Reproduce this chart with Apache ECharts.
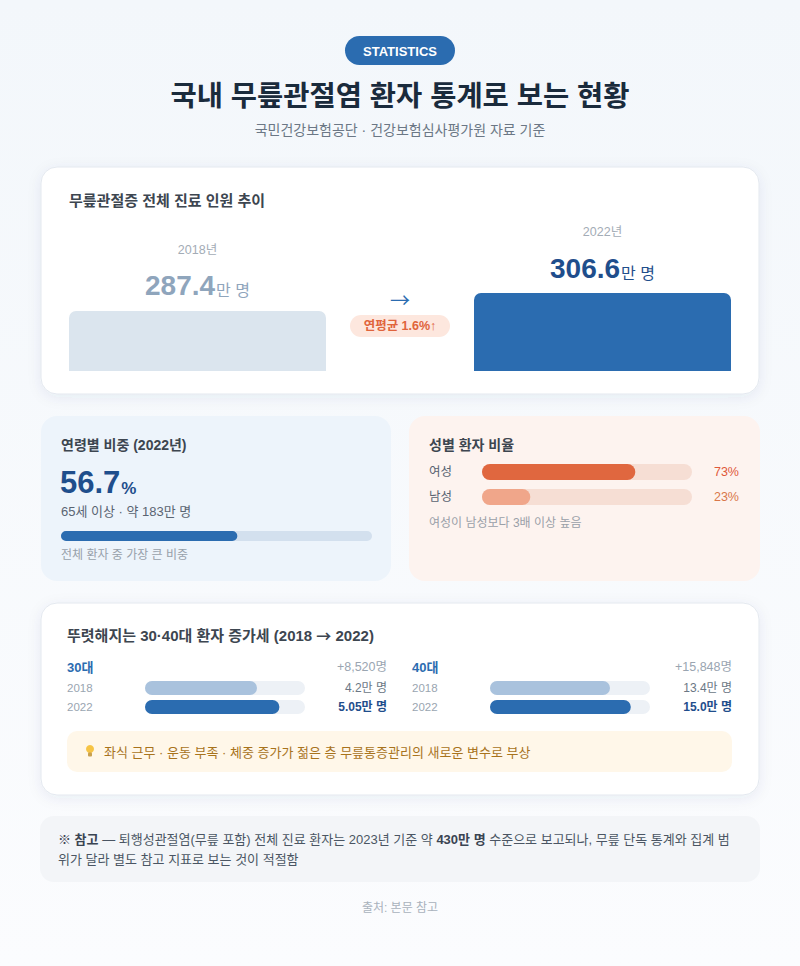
<!DOCTYPE html>
<html>
<head>
<meta charset="utf-8">
<title>국내 무릎관절염 환자 통계</title>
<style>
  html, body { margin: 0; padding: 0; }
  #main { width: 800px; height: 966px; }
</style>
<script src="https://cdn.jsdelivr.net/npm/echarts@6/dist/echarts.min.js"></script>
</head>
<body>
<div id="main"></div>
<script>
// 데이터
var totalYears = ['2018년', '2022년'];
var totalPatients = [287.4, 306.6];      // 만 명
var ageShare = [56.7];                   // 65세 이상 비중 %
var genderLabels = ['여성', '남성'];
var genderPct = [73, 23];
var groupNames = ['30대', '40대'];
var groupIncrease = ['+8,520명', '+15,848명'];
var groupYears = ['2018', '2022'];
var group30 = [4.2, 5.05];               // 만 명
var group40 = [13.4, 15.0];
var fill30 = [70, 84];                   // 막대 채움 %
var fill40 = [75, 88];

var FONT = '"Liberation Sans", Arial, "Noto Sans CJK KR", sans-serif';
var CJK = '"Noto Sans CJK KR", sans-serif';
var BLUE = '#2b6cb0';
var NAVY = '#1f4e8c';

function fmtMan(v) {
  var s = String(v);
  if (s.indexOf('.') < 0) s += '.0';
  return s + '만 명';
}

function txt(x, y, text, size, color, extra) {
  var style = {
    text: text, fontSize: size, fill: color, fontFamily: FONT,
    align: 'left', verticalAlign: 'middle'
  };
  for (var k in extra) style[k] = extra[k];
  return { type: 'text', x: x, y: y, z: 10, style: style };
}

function box(x, y, w, h, r, fill, extra) {
  var style = { fill: fill };
  for (var k in extra) style[k] = extra[k];
  return { type: 'rect', z: 1, shape: { x: x, y: y, width: w, height: h, r: r }, style: style };
}

var cardShadow = { stroke: '#e3e8ef', lineWidth: 1, shadowBlur: 14, shadowOffsetY: 3, shadowColor: 'rgba(40,70,110,0.07)' };

var bulb = { type: 'circle', z: 10, shape: { cx: 90, cy: 749, r: 4 }, style: { fill: '#f6c445' } };
var bulbBase = box(88, 752.5, 4, 4, 1, '#c9a04e', {});
bulbBase.z = 10;

var graphics = [
  // 상단
  box(345, 36, 110, 29, 14.5, BLUE),
  txt(400, 51, 'STATISTICS', 13, '#ffffff', { align: 'center', fontWeight: 'bold' }),
  txt(400, 96, '국내 무릎관절염 환자 통계로 보는 현황', 28.5, '#1a2b3c', { align: 'center', fontWeight: 'bold' }),
  txt(400, 130, '국민건강보험공단 · 건강보험심사평가원 자료 기준', 14, '#6b7785', { align: 'center' }),

  // 카드 1
  box(41, 167, 718, 227, 16, '#ffffff', cardShadow),
  txt(69, 200, '무릎관절증 전체 진료 인원 추이', 15, '#3d4650', { fontWeight: 'bold' }),
  txt(400, 299, '→', 20, BLUE, { align: 'center', fontFamily: CJK }),
  box(350, 315, 100, 22, 11, '#fde7de'),
  txt(400, 326, '연평균 1.6%↑', 12.5, '#e0643c', { align: 'center', fontWeight: 'bold' }),

  // 카드 2 (연령)
  box(41, 416, 350, 165, 16, '#edf4fb'),
  txt(61, 445, '연령별 비중 (2022년)', 14, '#3d4650', { fontWeight: 'bold' }),
  txt(60, 482, '{v|' + ageShare[0] + '}{u|%}', 31, NAVY, {
    rich: {
      v: { fontSize: 31, fontWeight: 'bold', fill: NAVY, fontFamily: FONT, lineHeight: 36 },
      u: { fontSize: 17, fontWeight: 'bold', fill: NAVY, fontFamily: FONT, verticalAlign: 'bottom', padding: [0, 0, 3, 1] }
    }
  }),
  txt(61, 511, '65세 이상 · 약 183만 명', 13, '#5a6472'),
  txt(61, 555, '전체 환자 중 가장 큰 비중', 12, '#97a0aa'),

  // 카드 2 (성별)
  box(409, 416, 351, 165, 16, '#fdf3ef'),
  txt(429, 445, '성별 환자 비율', 14, '#3d4650', { fontWeight: 'bold' }),
  txt(429, 523, '여성이 남성보다 3배 이상 높음', 12, '#9aa0a8'),

  // 카드 3
  box(41, 603, 718, 192, 16, '#ffffff', cardShadow),
  txt(67, 635, '뚜렷해지는 30·40대 환자 증가세 (2018 {a|→} 2022)', 15, '#3d4650', {
    fontWeight: 'bold',
    rich: { a: { fontFamily: CJK, fontSize: 15, fontWeight: 'bold', fill: '#3d4650' } }
  }),
  txt(67, 667, groupNames[0], 13, BLUE, { fontWeight: 'bold' }),
  txt(387, 667, groupIncrease[0], 12.5, '#9aa5b1', { align: 'right' }),
  txt(412, 667, groupNames[1], 13, BLUE, { fontWeight: 'bold' }),
  txt(732, 667, groupIncrease[1], 12.5, '#9aa5b1', { align: 'right' }),
  box(67, 731, 665, 41, 10, '#fff7e9'),
  bulb,
  bulbBase,
  txt(104, 752, '좌식 근무 · 운동 부족 · 체중 증가가 젊은 층 무릎통증관리의 새로운 변수로 부상', 13, '#a8731c'),

  // 참고
  box(40, 816, 720, 66, 14, '#f3f5f8'),
  txt(58, 849, '{b|※ 참고} — 퇴행성관절염(무릎 포함) 전체 진료 환자는 2023년 기준 약 {b|430만 명} 수준으로 보고되나, 무릎 단독 통계와 집계 범\n위가 달라 별도 참고 지표로 보는 것이 적절함', 13, '#4a5563', {
    lineHeight: 20,
    rich: { b: { fontWeight: 'bold', fill: '#3a4452', fontSize: 13, fontFamily: FONT, lineHeight: 20 } }
  }),
  txt(400, 908, '출처: 본문 참고', 12, '#a9b2bc', { align: 'center' })
];

function hiddenAxis(grid, type, extra) {
  var a = { gridIndex: grid, type: type, show: false };
  for (var k in extra) a[k] = extra[k];
  return a;
}

function labelAxis(grid, data, pos, margin, align, color, size) {
  return {
    gridIndex: grid, type: 'category', data: data, inverse: true, position: pos, z: 20,
    axisLine: { show: false }, axisTick: { show: false }, splitLine: { show: false },
    axisLabel: { margin: margin, align: align, color: color, fontSize: size, fontFamily: FONT }
  };
}

var xAxes = [
  hiddenAxis(0, 'category', { data: [totalYears[0]] }),
  hiddenAxis(1, 'category', { data: [totalYears[1]] }),
  hiddenAxis(2, 'value', { min: 0, max: 100 }),
  hiddenAxis(3, 'value', { min: 0, max: 100 }),
  hiddenAxis(4, 'value', { min: 0, max: 100 }),
  hiddenAxis(5, 'value', { min: 0, max: 100 })
];

var pctColors = ['#e0583a', '#d9774a'];
var yAxes = [
  hiddenAxis(0, 'value', { min: 223, max: 306.6 }),
  hiddenAxis(1, 'value', { min: 223, max: 306.6 }),
  hiddenAxis(2, 'category', { data: ['65세 이상'] }),
  labelAxis(3, genderLabels, 'left', 53, 'left', '#5a6472', 12.5),
  labelAxis(3, genderPct.map(function (v, j) {
    return { value: v + '%', textStyle: { color: pctColors[j], align: 'right', fontSize: 12.5, fontFamily: FONT } };
  }), 'right', 47, 'right', '#e0583a', 12.5),
  labelAxis(4, groupYears, 'left', 78, 'left', '#9aa5b1', 11.5),
  labelAxis(4, [
    { value: fmtMan(group30[0]) },
    { value: fmtMan(group30[1]), textStyle: { color: NAVY, fontWeight: 'bold', align: 'right', fontSize: 12, fontFamily: FONT } }
  ], 'right', 82, 'right', '#6b7785', 12),
  labelAxis(5, groupYears, 'left', 78, 'left', '#9aa5b1', 11.5),
  labelAxis(5, [
    { value: fmtMan(group40[0]) },
    { value: fmtMan(group40[1]), textStyle: { color: NAVY, fontWeight: 'bold', align: 'right', fontSize: 12, fontFamily: FONT } }
  ], 'right', 82, 'right', '#6b7785', 12)
];

function totalSeries(i) {
  var dark = i === 1;
  var col = dark ? NAVY : '#8fa5bc';
  return {
    type: 'bar', xAxisIndex: i, yAxisIndex: i, barWidth: '100%', z: 5,
    data: [totalPatients[i]],
    itemStyle: { color: dark ? BLUE : '#dbe5ee', borderRadius: [7, 7, 0, 0] },
    label: {
      show: true, position: 'top', distance: 10,
      formatter: '{y|' + totalYears[i] + '}\n{v|' + totalPatients[i].toFixed(1) + '}{u|만 명}',
      rich: {
        y: { fontSize: 12.5, color: '#a3acb6', lineHeight: 42, fontFamily: FONT },
        v: { fontSize: 28, fontWeight: 'bold', color: col, lineHeight: 30, fontFamily: FONT },
        u: { fontSize: 16, color: col, fontFamily: FONT, verticalAlign: 'bottom', padding: [0, 0, 2, 1] }
      }
    }
  };
}

function hbar(grid, yIdx, data, colors, width, track) {
  return {
    type: 'bar', xAxisIndex: grid, yAxisIndex: yIdx, barWidth: width, z: 5,
    showBackground: true,
    backgroundStyle: { color: track, borderRadius: width / 2 },
    data: data.map(function (v, j) {
      return { value: v, itemStyle: { color: colors[j] } };
    }),
    itemStyle: { borderRadius: width / 2 }
  };
}

var option = {
  backgroundColor: new echarts.graphic.LinearGradient(0, 0, 0, 1, [
    { offset: 0, color: '#f3f7fb' },
    { offset: 1, color: '#fbfcfe' }
  ]),
  animation: false,
  textStyle: { fontFamily: FONT },
  graphic: graphics,
  grid: [
    { left: 69, top: 293, width: 257, height: 78 },
    { left: 474, top: 293, width: 257, height: 78 },
    { left: 61, top: 531, width: 311, height: 10 },
    { left: 482, top: 459.5, width: 210, height: 50 },
    { left: 145, top: 678.5, width: 160, height: 38 },
    { left: 490, top: 678.5, width: 160, height: 38 }
  ],
  xAxis: xAxes,
  yAxis: yAxes,
  series: [
    totalSeries(0),
    totalSeries(1),
    hbar(2, 2, ageShare, [BLUE], 10, '#d3e0ee'),
    hbar(3, 3, genderPct, ['#e0673f', '#f0a68a'], 16, '#f6ded4'),
    hbar(4, 5, fill30, ['#a9c2dd', BLUE], 14, '#edf1f6'),
    hbar(5, 7, fill40, ['#a9c2dd', BLUE], 14, '#edf1f6')
  ]
};

var myChart = echarts.init(document.getElementById('main'), null, { renderer: 'svg' });
myChart.setOption(option);
</script>
</body>
</html>
